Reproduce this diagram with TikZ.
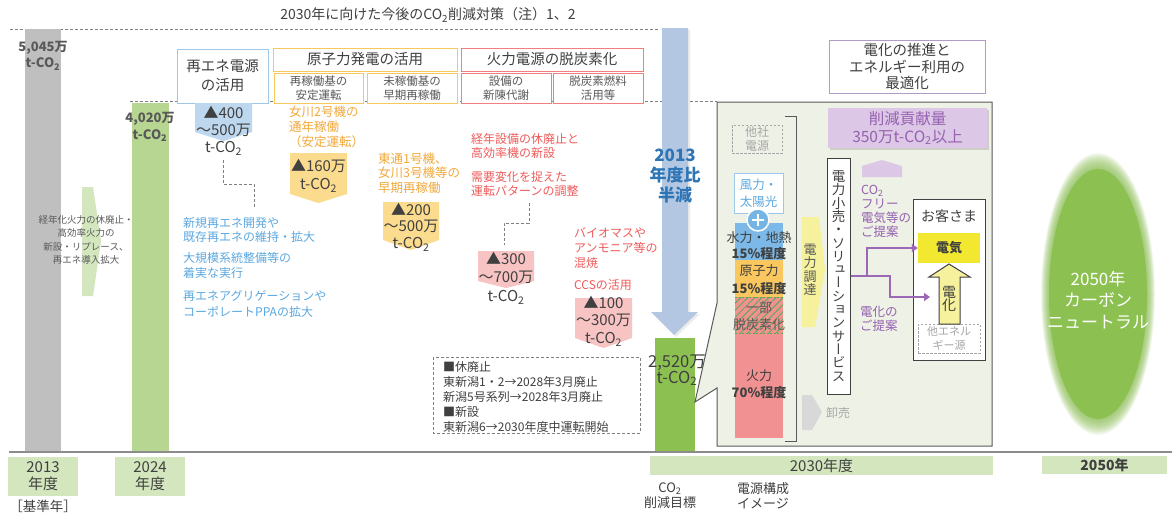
\documentclass[tikz,border=0pt]{standalone}
\usepackage{fontspec}
\setmainfont{Noto Sans CJK JP}
\newfontfamily\vjp[RawFeature=+vert]{Noto Sans CJK JP}
\usetikzlibrary{patterns.meta,shadows,arrows.meta}
\definecolor{tdark}{HTML}{404040}
\definecolor{tgray}{HTML}{595959}
\definecolor{lgray}{HTML}{A6A6A6}
\definecolor{btxt}{HTML}{5BA8E0}
\definecolor{otxt}{HTML}{F2A93B}
\definecolor{rtxt}{HTML}{EF5B5B}
\definecolor{ptxt}{HTML}{9561B0}
\definecolor{tagb}{HTML}{BDD7EE}
\definecolor{tago}{HTML}{FBDC8E}
\definecolor{tagr}{HTML}{F7C3C3}
\definecolor{barg}{HTML}{BFBFBF}
\definecolor{bar24}{HTML}{B7D691}
\definecolor{lblg}{HTML}{D3E6BE}
\definecolor{arrb}{HTML}{B4C7E2}
\definecolor{bar30}{HTML}{8CC152}
\definecolor{callf}{HTML}{EEF1E6}
\definecolor{hydro}{HTML}{7CB9E8}
\definecolor{nucl}{HTML}{F9C75D}
\definecolor{therm}{HTML}{F29191}
\definecolor{hatchg}{HTML}{4CAF50}
\definecolor{yarr}{HTML}{F5F19C}
\definecolor{pfill}{HTML}{DCC7E6}
\definecolor{purpline}{HTML}{9B68B8}
\definecolor{denkiy}{HTML}{F2E830}
\definecolor{bluebd}{HTML}{9DC8EA}
\definecolor{orabd}{HTML}{F7C95C}
\definecolor{redbd}{HTML}{F08080}
\definecolor{purbd}{HTML}{B29BC8}
\definecolor{ncg}{HTML}{8CC152}
\definecolor{axisg}{HTML}{8C8C8C}
\definecolor{dashg}{HTML}{7F7F7F}
\definecolor{bluet}{HTML}{2E75B6}
\newcommand\COtwo{CO\textsubscript{2}}
\newcommand\fs[2]{\fontsize{#1}{#2}\selectfont}
\newcommand\downtag[6]{\fill[#6] (#1,#3) -- (#2,#3) -- (#2,#4) -- ({(#1+#2)/2},#5) -- (#1,#4) -- cycle;}
\lineskiplimit=-30pt
\begin{document}
\begin{tikzpicture}[x=1pt,y=-1pt,
  txt/.style={inner sep=0, align=center, text=tdark},
  box/.style={draw, fill=white, line width=1pt, inner sep=0, align=center, text=tdark},
  dashc/.style={draw=dashg, dash pattern=on 3pt off 2pt, line width=0.9pt},
  pl/.style={draw=purpline, line width=2.4pt, line join=miter, -{Triangle[length=6pt,width=8pt]}},
  lbl/.style={fill=lblg, inner sep=0, text=tdark, align=center}]
\useasboundingbox (0,0) rectangle (1172,515);
\fill[white] (0,0) rectangle (1172,515);

% title and dashed guide lines
\node[txt, font=\fs{14}{16}] (title) at (428,15) {2030年に向けた今後の\COtwo 削減対策（注）1、2};
\draw[dashc] (10,29) -- (660,29);
\draw[dashc] (130,101) -- (717,101);

% bars
\fill[barg] (25,29) rectangle (61,452);
\fill[bar24] (132,103) rectangle (169,452);
\fill[lblg] (82,187) -- (93,187) -- (101,241) -- (93,296) -- (82,296) -- cycle;
\node[txt, text=tgray, font=\fs{9.5}{13.4}] (oldth) at (86,240) {経年化火力の休廃止・\\高効率火力の\\新設・リプレース、\\再エネ導入拡大};
\node[txt, text=tgray, font=\bfseries\fs{13}{16}] (v2013) at (43,56) {5,045万\\t-\COtwo};
\node[txt, text=tgray, font=\bfseries\fs{13}{17}] (v2024) at (150,127) {4,020万\\t-\COtwo};

% top category boxes
\node[box, draw=bluebd, minimum width=91pt, minimum height=54pt, font=\fs{14.5}{19}] (renebox) at (222.5,76) {再エネ電源\\の活用};
\node[box, draw=orabd, minimum width=184pt, minimum height=23pt, font=\fs{14.5}{16}] (nucbox) at (365,59.5) {原子力発電の活用};
\node[box, draw=orabd, minimum width=89pt, minimum height=30pt, text=tgray, font=\fs{11.5}{14}] (nuc1) at (318.5,88) {再稼働基の\\安定運転};
\node[box, draw=orabd, minimum width=90pt, minimum height=30pt, text=tgray, font=\fs{11.5}{14}] (nuc2) at (412,88) {未稼働基の\\早期再稼働};
\node[box, draw=redbd, minimum width=182pt, minimum height=23pt, font=\fs{14.5}{16}] (thbox) at (552,59.5) {火力電源の脱炭素化};
\node[box, draw=redbd, minimum width=90pt, minimum height=30pt, text=tgray, font=\fs{11.5}{14}] (th1) at (506,88) {設備の\\新陳代謝};
\node[box, draw=redbd, minimum width=90pt, minimum height=30pt, text=tgray, font=\fs{11.5}{14}] (th2) at (598,88) {脱炭素燃料\\活用等};

% tags
\downtag{195}{252}{103}{132}{141}{tagb}
\node[txt, font=\fs{15}{17}] (tag1) at (223.5,131) {▲400\\～500万\\t-\COtwo};
\downtag{290}{347}{153}{194}{203}{tago}
\node[txt, font=\fs{15}{18}] (tag2) at (318.5,176) {▲160万\\t-\COtwo};
\downtag{383}{439}{202}{240}{250}{tago}
\node[txt, font=\fs{15}{16.5}] (tag3) at (411,227) {▲200\\～500万\\t-\COtwo};
\downtag{478}{534}{251}{281}{288}{tagr}
\node[txt, font=\fs{15}{18.5}] (tag4) at (506,278) {▲300\\～700万\\t-\COtwo};
\downtag{575}{632}{298}{338}{348}{tagr}
\node[txt, font=\fs{15}{17.5}] (tag5) at (603.5,321) {▲100\\～300万\\t-\COtwo};

% measure texts
\node[txt, anchor=west, align=left, text=btxt, font=\fs{12}{14.5}] (re1) at (183,230) {新規再エネ開発や\\既存再エネの維持・拡大};
\node[txt, anchor=west, align=left, text=btxt, font=\fs{12}{15}] (re2) at (183,265.5) {大規模系統整備等の\\着実な実行};
\node[txt, anchor=west, align=left, text=btxt, font=\fs{12}{16}] (re3) at (183,304) {再エネアグリゲーションや\\コーポレートPPAの拡大};
\node[txt, anchor=west, align=left, text=otxt, font=\fs{12.5}{15}] (nu1) at (289,127) {女川2号機の\\通年稼働\\（安定運転）};
\node[txt, anchor=west, align=left, text=otxt, font=\fs{12.5}{14.5}] (nu2) at (378,173) {東通1号機、\\女川3号機等の\\早期再稼働};
\node[txt, anchor=west, align=left, text=rtxt, font=\fs{12}{14}] (tr1) at (471,146) {経年設備の休廃止と\\高効率機の新設};
\node[txt, anchor=west, align=left, text=rtxt, font=\fs{12}{14}] (tr2) at (471,184) {需要変化を捉えた\\運転パターンの調整};
\node[txt, anchor=west, align=left, text=rtxt, font=\fs{12}{15}] (tr3) at (574,248) {バイオマスや\\アンモニア等の\\混焼};
\node[txt, anchor=west, align=left, text=rtxt, font=\fs{12}{14}] (tr4) at (574,285) {CCSの活用};

% dashed connectors
\coordinate (c1a) at (223,160); \coordinate (c1b) at (254,184); \coordinate (c1c) at (254,208);
\draw[dashc] (c1a) |- (c1b) -- (c1c);
\coordinate (c2a) at (529,203); \coordinate (c2b) at (504,223); \coordinate (c2c) at (504,245);
\draw[dashc] (c2a) |- (c2b) -- (c2c);

% notes box
\draw[dashc] (433,357) rectangle (640,433);
\node[txt, anchor=west, align=left, font=\fs{12}{15}] (notes) at (443,397) {■休廃止\\東新潟1・2→2028年3月廃止\\新潟5号系列→2028年3月廃止\\■新設\\東新潟6→2030年度中運転開始};

% 2030 bar and big arrow
\fill[bar30] (655,338) rectangle (695,452);
\fill[black, opacity=0.08] (664,30) -- (690,30) -- (690,314) -- (700,314) -- (676,337) -- (653,314) -- (664,314) -- cycle;
\fill[arrb] (662,28) -- (688,28) -- (688,312) -- (698,312) -- (674,335) -- (651,312) -- (662,312) -- cycle;
\node[txt, text=bluet, font=\bfseries\fs{17}{20}] (half) at (675,176) {2013\\年度比\\半減};
\node[txt, font=\fs{16.5}{16}] (v2030) at (677,370) {2,520万\\t-\COtwo};

% callout
\draw[fill=callf, draw=tgray, line width=1pt, line join=miter] (717,102) -- (992,102) -- (992,446) -- (717,446) -- (717,388) -- (695,402) -- (717,303) -- cycle;
\draw[tgray, line width=1pt] (785,116) -- (796,116) -- (796,441) -- (785,441);
\node[box, fill=callf, draw=lgray, dash pattern=on 2.5pt off 1.5pt, minimum width=50pt, minimum height=28pt, text=lgray, font=\fs{12}{14}] (tasha) at (757,139) {他社\\電源};
\node[box, draw=bluebd, minimum width=49pt, minimum height=40pt, text=btxt, font=\fs{12.5}{17}] (wind) at (758.5,193) {風力・\\太陽光};
\fill[hydro] (735,223) rectangle (783,260);
\fill[nucl] (735,260) rectangle (783,297);
\fill[therm] (735,297) rectangle (783,438);
\fill[pattern={Lines[angle=45,distance=5pt,line width=0.8pt]}, pattern color=hatchg] (735,297) rectangle (783,333);
\draw[hatchg, dash pattern=on 2pt off 1.5pt, line width=1pt] (735,297) -- (783,297) (735,333) -- (783,333);
\node[circle, fill=btxt!85, draw=white, line width=1.5pt, minimum size=22pt, inner sep=0] (plus) at (758,220) {};
\draw[white, line width=2pt] (plus.center) ++(-6,0) -- ++(12,0) (plus.center) ++(0,-6) -- ++(0,12);
\node[txt, font=\fs{13}{16}] (hyd) at (759,246) {水力・地熱\\\textbf{15\%程度}};
\node[txt, font=\fs{13}{18}] (nuc) at (759,280) {原子力\\\textbf{15\%程度}};
\node[txt, text=tgray, font=\fs{13}{17}] (part) at (759,316.5) {一部\\脱炭素化};
\node[txt, font=\fs{13}{17}] (thm) at (759,384.5) {火力\\\textbf{70\%程度}};

\fill[yarr] (802,217) -- (819,217) -- (825,270) -- (815,327) -- (802,327) -- cycle;
\node[txt, text=tgray, font=\vjp\fs{13}{13.5}] (proc) at (810,270) {電\\力\\調\\達};
\fill[barg!60] (802,395) -- (812,395) -- (822,412) -- (812,430) -- (802,430) -- cycle;
\node[txt, text=lgray, font=\fs{12}{14}] (whole) at (838,413) {卸売};

\node[box, draw=tdark, minimum width=23pt, minimum height=236pt, font=\vjp\fs{13.5}{13.3}] (sol) at (838.5,276) {電\\力\\小\\売\\・\\ソ\\リ\\ュ\\ー\\シ\\ョ\\ン\\サ\\ー\\ビ\\ス};

\node[box, draw=purbd, minimum width=156pt, minimum height=53pt, font=\fs{14.5}{16.5}] (elec) at (907,66.5) {電化の推進と\\エネルギー利用の\\最適化};
\node[fill=pfill, inner sep=0, minimum width=159pt, minimum height=40pt, align=center, text=ptxt, font=\fs{15.5}{18}, drop shadow={shadow xshift=1.5pt, shadow yshift=-1.5pt, opacity=0.3}] (contrib) at (907.5,128) {削減貢献量\\350万t-\COtwo 以上};
\fill[pfill] (862,177) -- (862,166) -- (882,160) -- (902,166) -- (902,177) -- cycle;
\node[txt, anchor=north west, align=left, text=ptxt, font=\fs{12.5}{14}] (co2free) at (861,185) {\COtwo\\フリー\\電気等の\\ご提案};
\node[txt, anchor=west, align=left, text=ptxt, font=\fs{12.5}{14}] (elprop) at (860,319) {電化の\\ご提案};

\node[box, draw=tdark, minimum width=72pt, minimum height=161pt] (cust) at (949,279.5) {};
\node[txt, font=\fs{14}{16}] (custt) at (949,216) {お客さま};
\node[fill=denkiy, inner sep=0, minimum width=62pt, minimum height=30pt, text=tdark, font=\bfseries\fs{13}{15}] (denki) at (949,248) {電気};
\node[box, draw=lgray, dash pattern=on 2.5pt off 1.5pt, minimum width=62pt, minimum height=29pt, text=lgray, font=\fs{11}{14}] (other) at (949,338.5) {他エネル\\ギー源};
\draw[fill=yarr, draw=tdark, line width=1pt] (949,264) -- (970,277) -- (960,277) -- (960,324) -- (939,324) -- (939,277) -- (929,277) -- cycle;
\node[txt, font=\fs{14}{13.5}] (denka) at (949,299) {電\\化};

\coordinate (pj) at (867,276);
\coordinate (pk) at (890,276);
\coordinate (denkaL) at (930,297);
\draw[pl] (sol.east) -- (pj) |- (denki.west);
\draw[pl] (pj) -- (pk) |- (denkaL);

% 2050
\foreach \k in {0,...,15} {\fill[ncg, opacity=0.08] (1098,294) ellipse ({(57-0.5*\k)*1pt} and {(141-\k)*1pt});}
\fill[ncg] (1098,294) ellipse (49pt and 125pt);
\node[txt, text=white, font=\fs{17}{21.5}] (cn) at (1098,300) {2050年\\カーボン\\ニュートラル};

% axis and labels
\draw[axisg, line width=2pt] (9,452) -- (1172,452);
\node[lbl, minimum width=70pt, minimum height=39pt, font=\fs{15}{17}] (l2013) at (43,476.5) {2013\\年度};
\node[txt, font=\fs{13.5}{15}] (base) at (43,506) {［基準年］};
\node[lbl, minimum width=70pt, minimum height=39pt, font=\fs{15}{17}] (l2024) at (150,476.5) {2024\\年度};
\node[lbl, minimum width=343pt, minimum height=19pt, font=\fs{15}{17}] (l2030) at (821.5,465.5) {2030年度};
\node[lbl, minimum width=125pt, minimum height=18pt, font=\bfseries\fs{14}{16}] (l2050) at (1104.5,465) {2050年};
\node[txt, font=\fs{13}{15}] (target) at (670,495.5) {\COtwo\\削減目標};
\node[txt, font=\fs{13}{15}] (mix) at (763,495.5) {電源構成\\イメージ};
\end{tikzpicture}
\end{document}
